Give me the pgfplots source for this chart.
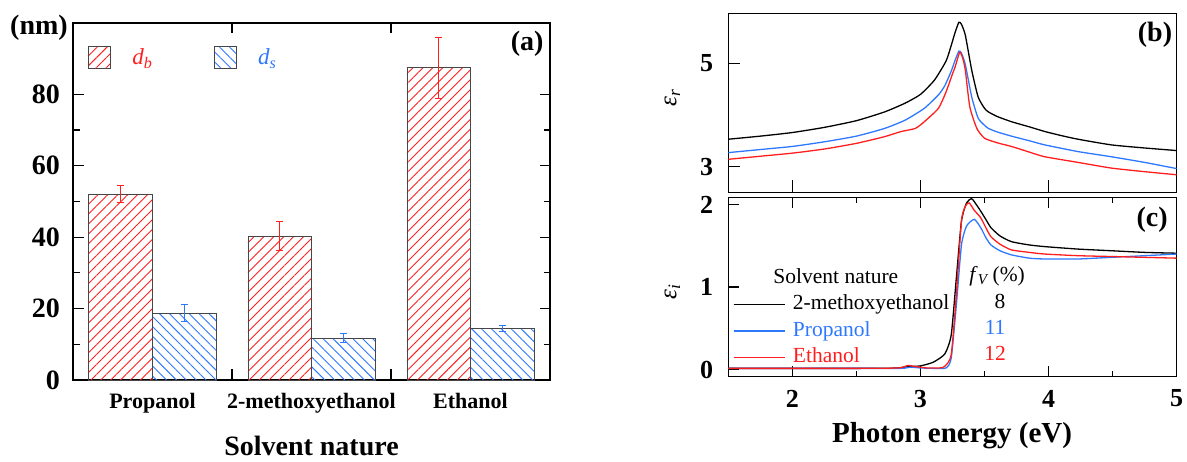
\documentclass[border=0pt]{standalone}
\usepackage{pgfplots}
\pgfplotsset{compat=1.18}
\usepackage{fontspec}
\setmainfont{Liberation Serif}
\usetikzlibrary{patterns.meta}
\definecolor{myred}{RGB}{255,30,30}
\definecolor{myblue}{RGB}{45,120,255}
\definecolor{bargray}{RGB}{70,70,70}
\newcommand{\fs}[1]{\fontsize{#1}{#1}\selectfont}
\pgfplotsset{boxlegend/.style={legend image code/.code={\draw[##1] (0pt,-11pt) rectangle (22pt,11pt);}}}
\begin{document}
\begin{tikzpicture}
\path[use as bounding box] (0pt,0pt) rectangle (1187pt,461pt);
% ---------------- panel (a)
\begin{axis}[
  at={(73pt,81pt)}, anchor=south west, scale only axis,
  width=477pt, height=357pt,
  xmin=0.5, xmax=3.5, ymin=0, ymax=100,
  xtick={1.5,2.5}, xticklabels={},
  extra x ticks={1,2,3},
  extra x tick labels={Propanol,2-methoxyethanol,Ethanol},
  extra x tick style={major tick length=0pt},
  ytick={0,20,40,60,80}, minor y tick num=1,
  tick align=inside, xtick pos=both, ytick pos=both,
  major tick length=10.5pt, minor tick length=6.5pt,
  axis line style={line width=1.3pt},
  every tick/.style={line width=1.2pt, black},
  /pgf/number format/assume math mode=true,
  yticklabel style={font=\bfseries\fs{28}, inner sep=0pt},
  xticklabel style={font=\bfseries\fs{22}, inner sep=0pt},
  yticklabel shift=13pt, xticklabel shift=13pt,
  xlabel={Solvent nature},
  xlabel style={font=\bfseries\fs{28}, at={(axis description cs:0.5,-0.184)}, anchor=center},
  ylabel={(nm)},
  ylabel style={font=\bfseries\fs{28}, rotate=-90, at={(axis description cs:-0.0713,0.986)}, anchor=center},
  legend columns=2,
  legend style={draw=none, fill=none, at={(axis description cs:0.032,0.936)}, anchor=north west,
    inner sep=0pt, font=\itshape\fs{23}, nodes={inner sep=0pt},
    /tikz/every odd column/.style={column sep=21pt},
    /tikz/every even column/.style={column sep=62pt}},
]
\addplot[ybar, bar width=63.6pt, bar shift=0pt, draw=bargray, line width=0.8pt,
  pattern={Lines[angle=45,distance=7pt,line width=0.9pt]}, pattern color=myred,
  boxlegend,
  error bars/.cd, y dir=both, y explicit,
  error bar style={line width=0.9pt, myred},
  error mark options={rotate=90, mark size=3.5pt, line width=0.9pt, myred}]
coordinates {(0.8,52.1) +- (0,2.4) (1.8,40.3) +- (0,4.0) (2.8,87.5) +- (0,8.5)};
\addlegendentry{\textcolor{myred}{d\textsubscript{b}}}
\addplot[ybar, bar width=63.6pt, bar shift=0pt, draw=bargray, line width=0.8pt,
  pattern={Lines[angle=-45,distance=7pt,line width=0.9pt]}, pattern color=myblue,
  boxlegend,
  error bars/.cd, y dir=both, y explicit,
  error bar style={line width=0.9pt, myblue},
  error mark options={rotate=90, mark size=3.5pt, line width=0.9pt, myblue}]
coordinates {(1.2,18.7) +- (0,2.4) (2.2,11.7) +- (0,1.2) (3.2,14.5) +- (0,0.9)};
\addlegendentry{\textcolor{myblue}{d\textsubscript{s}}}
\node[font=\bfseries\fs{28}] at (axis description cs:0.952,0.943) {(a)};
\end{axis}
% ---------------- panel (b)
\begin{axis}[
  at={(728.3pt,268.7pt)}, anchor=south west, scale only axis,
  width=448.4pt, height=178.8pt,
  xmin=1.5, xmax=5, ymin=2.5, ymax=5.97,
  xtick={2,3,4}, xticklabels={}, xtick pos=bottom,
  ytick={3,5}, ytick pos=left,
  tick align=inside, major tick length=12pt,
  axis line style={line width=1.3pt},
  every tick/.style={line width=1.2pt, black},
  /pgf/number format/assume math mode=true,
  yticklabel style={font=\bfseries\fs{26}, inner sep=0pt},
  yticklabel shift=15pt,
  ylabel={\textit{ε}\textsubscript{\textit{r}}},
  ylabel style={font=\fs{25}, at={(axis description cs:-0.125,0.527)}, anchor=center},
]
\addplot[black, line width=1.3pt, smooth, tension=0.35] coordinates {
(1.5,3.53) (1.75,3.59) (2.0,3.66) (2.25,3.76) (2.5,3.89) (2.72,4.06) (2.88,4.23)
(3.0,4.40) (3.11,4.68) (3.2,5.05) (3.24,5.35) (3.27,5.60) (3.30,5.80) (3.32,5.76)
(3.35,5.55) (3.40,4.87) (3.45,4.35) (3.50,4.13) (3.53,4.06) (3.6,3.97) (3.71,3.87)
(3.85,3.77) (3.97,3.68) (4.1,3.60) (4.23,3.53) (4.49,3.42) (4.75,3.36) (5.0,3.31)};
\addplot[myblue, line width=1.3pt, smooth, tension=0.35] coordinates {
(1.5,3.27) (1.75,3.33) (2.0,3.39) (2.25,3.48) (2.5,3.59) (2.72,3.74) (2.88,3.90)
(3.03,4.13) (3.14,4.39) (3.19,4.57) (3.24,4.85) (3.27,5.06) (3.30,5.24) (3.32,5.20)
(3.35,4.98) (3.40,4.35) (3.45,3.94) (3.50,3.80) (3.53,3.74) (3.6,3.67) (3.71,3.59)
(3.85,3.50) (3.97,3.42) (4.23,3.29) (4.49,3.19) (4.75,3.08) (5.0,2.96)};
\addplot[myred, line width=1.3pt, smooth, tension=0.35] coordinates {
(1.5,3.14) (1.75,3.20) (2.0,3.26) (2.25,3.34) (2.5,3.45) (2.72,3.58) (2.85,3.68)
(2.96,3.74) (3.03,3.87) (3.14,4.13) (3.20,4.45) (3.25,4.80) (3.27,4.93) (3.30,5.18)
(3.31,5.22) (3.33,5.10) (3.35,4.87) (3.385,4.16) (3.44,3.74) (3.50,3.55) (3.6,3.46)
(3.71,3.39) (3.85,3.28) (3.97,3.19) (4.23,3.08) (4.49,2.97) (4.75,2.90) (5.0,2.84)};
\node[font=\bfseries\fs{28}] at (axis description cs:0.9516,0.880) {(b)};
\end{axis}
% ---------------- panel (c)
\begin{axis}[
  at={(728.3pt,84.3pt)}, anchor=south west, scale only axis,
  width=448.4pt, height=179.2pt,
  xmin=1.5, xmax=5, ymin=-0.086, ymax=2.085,
  xtick={2,3,4,5}, minor x tick num=1, xtick pos=both,
  ytick={0,1,2}, ytick pos=left,
  tick align=inside, major tick length=11pt, minor tick length=6pt,
  axis line style={line width=1.3pt},
  every tick/.style={line width=1.2pt, black},
  /pgf/number format/assume math mode=true,
  yticklabel style={font=\bfseries\fs{26}, inner sep=0pt},
  xticklabel style={font=\bfseries\fs{26}, inner sep=0pt},
  yticklabel shift=15pt, xticklabel shift=13pt,
  ylabel={\textit{ε}\textsubscript{\textit{i}}},
  ylabel style={font=\fs{25}, at={(axis description cs:-0.125,0.472)}, anchor=center},
  xlabel={Photon energy (eV)},
  xlabel style={font=\bfseries\fs{29}, at={(axis description cs:0.499,-0.331)}, anchor=center},
  legend cell align=left,
  legend style={draw=none, fill=none, at={(axis description cs:0.0098,0.458)}, anchor=north west,
    inner sep=0pt, font=\fs{21.5}, row sep=6.2pt,
    nodes={inner sep=0pt, text height=15pt, text depth=5pt},
    /tikz/every odd column/.style={column sep=7.7pt}},
  legend image code/.code={\draw[#1] (0pt,0pt) -- (51pt,0pt);},
]
\addplot[black, line width=1.3pt, smooth, tension=0.35] coordinates {
(1.5,0.015) (2.0,0.015) (2.5,0.015) (2.8,0.018) (2.9,0.035) (3.0,0.045) (3.1,0.09)
(3.19,0.19) (3.24,0.42) (3.28,1.11) (3.32,1.80) (3.36,2.02) (3.40,2.07) (3.44,1.99)
(3.47,1.92) (3.51,1.82) (3.55,1.72) (3.62,1.62) (3.71,1.55) (3.85,1.51) (3.97,1.49)
(4.23,1.46) (4.49,1.44) (4.75,1.42) (5.0,1.41)};
\addlegendentry{2-methoxyethanol}
\addplot[myblue, line width=1.3pt, smooth, tension=0.35] coordinates {
(1.5,0.015) (2.0,0.015) (2.5,0.015) (2.85,0.015) (2.92,0.03) (3.0,0.02) (3.1,0.015)
(3.2,0.02) (3.24,0.14) (3.28,0.78) (3.32,1.51) (3.36,1.74) (3.42,1.82) (3.47,1.72)
(3.51,1.60) (3.55,1.51) (3.62,1.44) (3.71,1.39) (3.85,1.35) (3.97,1.34) (4.23,1.34)
(4.49,1.36) (4.75,1.38) (5.0,1.40)};
\addlegendentry{\textcolor{myblue}{Propanol}}
\addplot[myred, line width=1.3pt, smooth, tension=0.35] coordinates {
(1.5,0.015) (2.0,0.015) (2.5,0.015) (2.83,0.02) (2.9,0.05) (2.97,0.035) (3.05,0.02)
(3.15,0.02) (3.19,0.04) (3.24,0.18) (3.28,0.91) (3.32,1.80) (3.35,1.98) (3.38,2.02)
(3.42,1.93) (3.47,1.84) (3.51,1.72) (3.55,1.61) (3.62,1.52) (3.71,1.45) (3.85,1.42)
(3.97,1.40) (4.23,1.38) (4.49,1.37) (4.75,1.36) (5.0,1.35)};
\addlegendentry{\textcolor{myred}{Ethanol}}
\node[font=\fs{21.5}, anchor=west] at (axis description cs:0.0928,0.562) {Solvent nature};
\node[font=\fs{21.5}, anchor=west] at (axis description cs:0.53,0.562) {\textit{f}\textsubscript{\textit{V}}\,(\%)};
\node[font=\fs{21.5}] at (axis description cs:0.606,0.422) {8};
\node[font=\fs{21.5}, text=myblue] at (axis description cs:0.595,0.275) {11};
\node[font=\fs{21.5}, text=myred] at (axis description cs:0.595,0.130) {12};
\node[font=\bfseries\fs{28}] at (axis description cs:0.945,0.874) {(c)};
\end{axis}
\end{tikzpicture}
\end{document}
